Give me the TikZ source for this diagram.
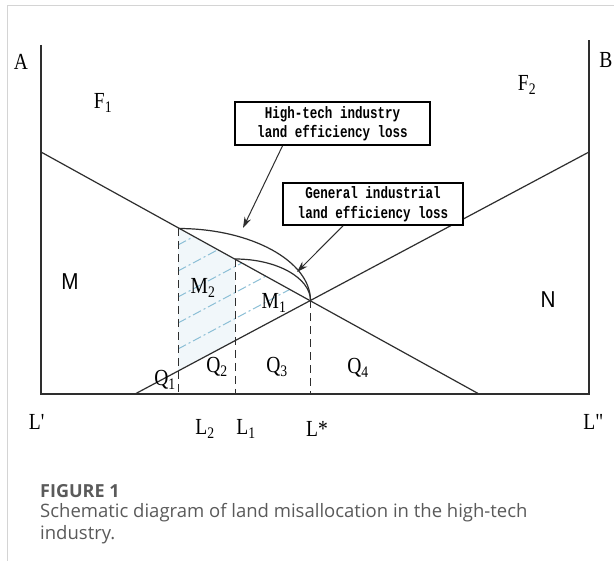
\documentclass[tikz,border=0pt]{standalone}
\usepackage{fontspec}
\setmainfont{Liberation Serif}[FakeStretch=0.85]
\newfontfamily\boxfont{Liberation Mono}[FakeStretch=0.76]
\newfontfamily\capfont{Open Sans}
\newfontfamily\sansM{Liberation Sans}[FakeStretch=0.9]
\usetikzlibrary{arrows.meta}
\definecolor{frame}{HTML}{D4D4D4}
\definecolor{axis}{HTML}{2E2E2E}
\definecolor{hatch}{HTML}{8CBFD6}
\definecolor{tint}{HTML}{F1F7FA}
\definecolor{capgray}{HTML}{5A5A5A}
\tikzset{
  lbl/.style={inner sep=0pt, font=\fontsize{23}{23}\selectfont},
  slbl/.style={inner sep=0pt, font=\sansM\fontsize{23}{23}\selectfont},
  axisline/.style={draw=axis, line width=1.4pt},
  curve/.style={draw=axis, line width=1.2pt},
  vdash/.style={draw=axis, line width=1pt, dash pattern=on 8pt off 5pt},
  hatchline/.style={draw=hatch, line width=1pt, dash pattern=on 9pt off 3pt on 2pt off 3pt},
  infobox/.style={draw=black, line width=1.8pt, fill=white, align=center,
    font=\boxfont\bfseries\fontsize{16.5}{19.5}\selectfont, inner sep=0pt},
  pointer/.style={draw=axis, line width=1pt, -{Stealth[length=11pt,width=7pt]}},
}
\begin{document}
\begin{tikzpicture}[x=1pt,y=-1pt]
\useasboundingbox (0,0) rectangle (614,561);
\fill[white] (0,0) rectangle (614,561);
% page frame
\draw[frame, line width=1pt] (7,6) -- (614,6);
\draw[frame, line width=1pt] (7,6) -- (7,561);
% key points
\coordinate (Atop) at (41,45);
\coordinate (Abot) at (41,394);
\coordinate (Btop) at (589,40);
\coordinate (Bbot) at (589,394);
\coordinate (D0) at (41,152);
\coordinate (D1) at (479,394);
\coordinate (S0) at (135,394);
\coordinate (S1) at (589,152);
\coordinate (E) at (310.5,300.5);
\coordinate (L2t) at (178,228.5);
\coordinate (L2s) at (178,371);
\coordinate (L2b) at (178,394);
\coordinate (L1t) at (235,259);
\coordinate (L1s) at (235,340.5);
\coordinate (L1b) at (235,394);
\coordinate (Lsb) at (310.5,394);
% tint and hatching
\fill[tint] (L2t) -- (L1t) -- (L1s) -- (L2s) -- cycle;
\begin{scope}
\clip (L2t) -- (E) -- (L2s) -- cycle;
\foreach \y in {219,245,271,297,323,349}{
  \draw[hatchline] (178,\y) -- (320,\y-75.7);
}
\end{scope}
% axes
\draw[axisline] (Atop) -- (Abot) -- (Bbot) -- (Btop);
% demand and supply
\draw[curve] (D0) -- (D1);
\draw[curve] (S0) -- (S1);
% dashed verticals
\draw[vdash] (L2t) -- (L2b);
\draw[vdash] (L1t) -- (L1b);
\draw[vdash] (E) -- (Lsb);
% arcs
\draw[curve] (L2t) .. controls (251.5,228.5) and (310.5,261.3) .. (E);
\draw[curve] (L1t) .. controls (277,259) and (310.5,278) .. (E);
% boxes
\node[infobox, minimum width=195pt, minimum height=43pt] (ht) at (332.5,123.5)
  {High-tech industry\\land efficiency loss};
\node[infobox, minimum width=180pt, minimum height=42pt] (gen) at (373,204)
  {General industrial\\land efficiency loss};
\coordinate (tipA) at (243,228);
\coordinate (tipB) at (297,272);
\draw[pointer] ([xshift=-50pt]ht.south) -- (tipA);
\draw[pointer] ([xshift=-30pt]gen.south) -- (tipB);
% labels
\node[lbl] (A) at (21,62) {A};
\node[lbl] (B) at (606,60) {B};
\node[lbl] (F1) at (103,103) {F\textsubscript{1}};
\node[lbl] (F2) at (527,85) {F\textsubscript{2}};
\node[slbl] (M) at (70,282) {M};
\node[slbl] (N) at (548,300) {N};
\node[lbl] (M2) at (203,288) {M\textsubscript{2}};
\node[lbl] (M1) at (274,303) {M\textsubscript{1}};
\node[lbl] (Q1) at (165,380) {Q\textsubscript{1}};
\node[lbl] (Q2) at (217,367) {Q\textsubscript{2}};
\node[lbl] (Q3) at (277,367) {Q\textsubscript{3}};
\node[lbl] (Q4) at (358,368) {Q\textsubscript{4}};
\node[lbl] (Lp) at (37,422) {L\textquotesingle};
\node[lbl] (L2) at (205,429) {L\textsubscript{2}};
\node[lbl] (L1) at (246,429) {L\textsubscript{1}};
\node[lbl] (Ls) at (317,429) {L*};
\node[lbl] (Lpp) at (594,422) {L\textquotedbl};
% caption
\node[anchor=west, inner sep=0pt, text=capgray, font=\capfont\fontsize{18}{18}\selectfont\bfseries] (fig) at (40,491) {FIGURE 1};
\node[anchor=north west, inner sep=0pt, text=capgray, align=left,
  font=\capfont\fontsize{18.5}{22}\selectfont] (cap) at (40,503)
  {Schematic diagram of land misallocation in the high-tech\\industry.};
\end{tikzpicture}
\end{document}
